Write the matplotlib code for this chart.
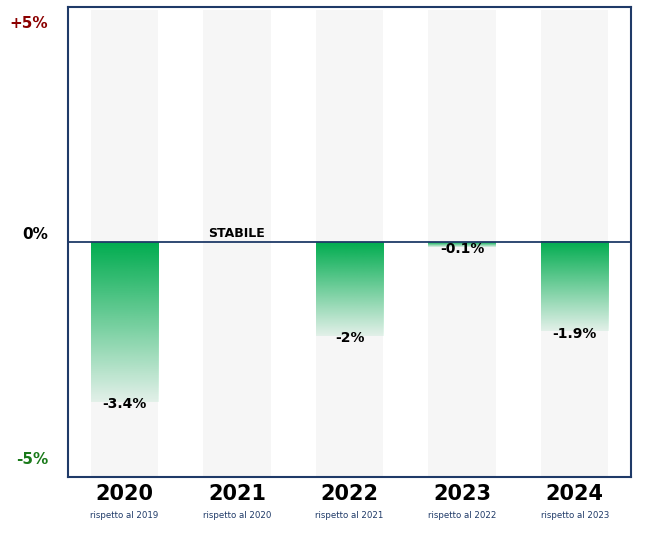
import numpy as np
import matplotlib.pyplot as plt
from matplotlib.colors import to_rgb

years = ['2020', '2021', '2022', '2023', '2024']
subtitles = ['rispetto al 2019', 'rispetto al 2020', 'rispetto al 2021',
             'rispetto al 2022', 'rispetto al 2023']
values = [-3.4, 0.0, -2.0, -0.1, -1.9]
labels = ['-3.4%', 'STABILE', '-2%', '-0.1%', '-1.9%']

navy = '#1f3a68'
green = '#00ac4f'
band = '#f6f6f6'
w = 0.6

fig = plt.figure(figsize=(6.5, 5.33), dpi=100)
ax = fig.add_axes([0.1046, 0.1051, 0.8662, 0.8818])
ax.set_xlim(-0.5, 4.5)
ax.set_ylim(-5, 5)

# grey background bands
ax.bar(range(len(years)), 9.93, bottom=-5, width=w, color=band, zorder=1)

# gradient bars
r, g, b = to_rgb(green)
grad = np.linspace(1, 0.08, 256)
img = np.zeros((256, 1, 4))
img[:, 0, 0] = r
img[:, 0, 1] = g
img[:, 0, 2] = b
img[:, 0, 3] = grad
for i, v in enumerate(values):
    if v == 0:
        continue
    ax.imshow(img, extent=[i - w / 2, i + w / 2, v, 0], aspect='auto',
              origin='upper', zorder=2, interpolation='bilinear')

ax.axhline(0, color=navy, lw=1.3, zorder=3)

for i, (v, lab) in enumerate(zip(values, labels)):
    if v == 0:
        ax.text(i, 0.05, lab, ha='center', va='bottom', fontsize=9,
                fontweight='bold', color='black', zorder=4)
    else:
        ax.text(i, v - 0.05, lab, ha='center', va='center', fontsize=10,
                fontweight='bold', color='black', zorder=4)

ax.set_xticks([])
ax.set_yticks([])
for s in ax.spines.values():
    s.set_color(navy)
    s.set_linewidth(1.5)

# y labels
ax.text(-0.035, 0.965, '+5%', transform=ax.transAxes, ha='right', va='center',
        fontsize=11, fontweight='bold', color='#8b0000')
ax.text(-0.035, 0.5, '0%', transform=ax.transAxes, ha='right', va='bottom',
        fontsize=11, fontweight='bold', color='black')
ax.text(-0.035, 0.038, '-5%', transform=ax.transAxes, ha='right', va='center',
        fontsize=11, fontweight='bold', color='#1a7a1a')

# x labels
for i, (y, s) in enumerate(zip(years, subtitles)):
    ax.annotate(y, (i, -5), xytext=(0, -12), textcoords='offset points',
                ha='center', va='center', fontsize=15, fontweight='bold',
                color='black', annotation_clip=False)
    ax.annotate(s, (i, -5), xytext=(0, -27.5), textcoords='offset points',
                ha='center', va='center', fontsize=6.2, color=navy,
                annotation_clip=False)

fig.savefig('out.png', dpi=100)
